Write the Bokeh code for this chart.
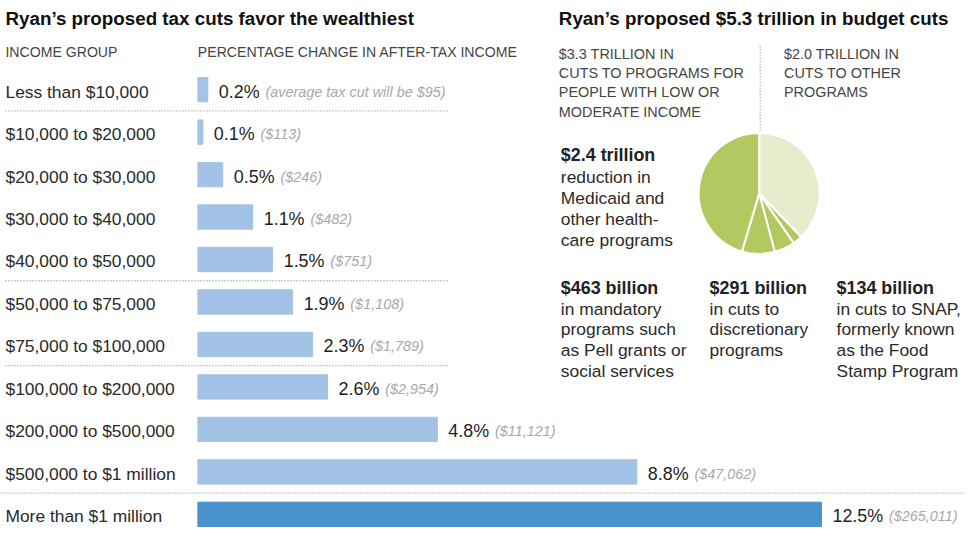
import numpy as np
from bokeh.plotting import figure
from bokeh.models import Range1d, ColumnDataSource
from bokeh.core.properties import value
from bokeh.embed import file_html
from bokeh.resources import INLINE

# ---------------- data ----------------
income_groups = [
    "Less than $10,000", "$10,000 to $20,000", "$20,000 to $30,000",
    "$30,000 to $40,000", "$40,000 to $50,000", "$50,000 to $75,000",
    "$75,000 to $100,000", "$100,000 to $200,000", "$200,000 to $500,000",
    "$500,000 to $1 million", "More than $1 million",
]
pct_change = [0.2, 0.1, 0.5, 1.1, 1.5, 1.9, 2.3, 2.6, 4.8, 8.8, 12.5]
avg_tax_cut = [95, 113, 246, 482, 751, 1108, 1789, 2954, 11121, 47062, 265011]
group_breaks = [0, 4, 6]          # dotted separators below these rows
top_group_break = 9               # full-width separator below this row

budget_parts = ["Other programs", "SNAP", "Discretionary", "Mandatory", "Medicaid and health care"]
budget_billions = [2000, 134, 291, 463, 2400]
budget_colors = ["#e5edcc", "#b4c862", "#b4c862", "#b4c862", "#b4c862"]

title_left = "Ryan\u2019s proposed tax cuts favor the wealthiest"
title_right = "Ryan\u2019s proposed $5.3 trillion in budget cuts"
header_left = ["INCOME GROUP", "PERCENTAGE CHANGE IN AFTER-TAX INCOME"]
header_low = ["$3.3 TRILLION IN", "CUTS TO PROGRAMS FOR", "PEOPLE WITH LOW OR", "MODERATE INCOME"]
header_other = ["$2.0 TRILLION IN", "CUTS TO OTHER", "PROGRAMS"]
note_medicaid = ["$2.4 trillion", "reduction in", "Medicaid and", "other health-", "care programs"]
note_mandatory = ["$463 billion", "in mandatory", "programs such", "as Pell grants or", "social services"]
note_discretionary = ["$291 billion", "in cuts to", "discretionary", "programs"]
note_snap = ["$134 billion", "in cuts to SNAP,", "formerly known", "as the Food", "Stamp Program"]

# ---------------- layout ----------------
W, H = 964, 527
REF_W, REF_H = 972, 541
S = W / REF_W
FONT = "Liberation Sans"

BAR_X0 = 199
PX_PER_PCT = 50.3
ROW0 = 91.5
ROW_STEP = 43.6
BAR_H = 25

def fs(px):
    return f"{px * S:.1f}px"

p = figure(width=W, height=H, x_range=Range1d(0, REF_W), y_range=Range1d(REF_H, 0),
           output_backend="svg", toolbar_location=None, min_border=0,
           x_axis_location=None, y_axis_location=None)
p.grid.visible = False
p.outline_line_color = None
p.background_fill_color = "white"
p.border_fill_color = "white"

p.extra_x_ranges = {"pct": Range1d((0 - BAR_X0) / PX_PER_PCT, (REF_W - BAR_X0) / PX_PER_PCT)}
p.extra_y_ranges = {"row": Range1d((REF_H - ROW0) / ROW_STEP, (0 - ROW0) / ROW_STEP)}

rows = np.arange(len(income_groups))
bar_colors = ["#a3c3e6"] * (len(rows) - 1) + ["#4892cd"]

# char widths (Liberation Sans / Arial, em units)
CW = {c: 0.556 for c in "0123456789"}
CW.update({".": 0.278, "%": 0.889})
PCT_F = 18.0

pct_text = [f"{v:.1f}%" for v in pct_change]
cut_text = ["(average tax cut will be ${:,})".format(avg_tax_cut[0])] + \
           ["(${:,})".format(v) for v in avg_tax_cut[1:]]
pct_w = [sum(CW.get(c, 0.556) for c in t) * PCT_F * S for t in pct_text]

src = ColumnDataSource(dict(
    row=rows, pct=pct_change, color=bar_colors, group=income_groups,
    pct_text=pct_text, cut_text=cut_text,
    cut_off=[11 + w + 6 for w in pct_w],
    ty=rows + 2.0 / ROW_STEP,
))

# bars
p.hbar(y="row", left=0, right="pct", height=BAR_H / ROW_STEP, color="color",
       source=src, x_range_name="pct", y_range_name="row")

# row labels
p.text(x=5, y="ty", text="group", source=src, y_range_name="row",
       text_font=value(FONT), text_font_size=fs(17.5), text_color="#2a2a2a",
       text_baseline="middle", text_align="left")
# percent labels
p.text(x="pct", y="ty", text="pct_text", source=src, x_range_name="pct", y_range_name="row",
       x_offset=11, text_font=value(FONT), text_font_size=fs(PCT_F), text_color="#1e1e1e",
       text_baseline="middle", text_align="left")
# average cut labels
p.text(x="pct", y="ty", text="cut_text", source=src, x_range_name="pct", y_range_name="row",
       x_offset="cut_off", text_font=value(FONT), text_font_size=fs(14.5), text_color="#a8a8a8",
       text_font_style="italic", text_baseline="middle", text_align="left")

# dotted separators
sep_y = [b + 0.5 for b in group_breaks]
p.segment(x0=5, x1=452, y0=sep_y, y1=sep_y, y_range_name="row",
          line_color="#9a9a9a", line_width=1.3, line_dash="1 2")
p.segment(x0=0, x1=REF_W, y0=top_group_break + 0.5, y1=top_group_break + 0.5, y_range_name="row",
          line_color="#9a9a9a", line_width=1.3, line_dash="1 2")

# titles and headers
p.text(x=[5, 563], y=[18, 18], text=[title_left, title_right], text_font=value(FONT),
       text_font_size=fs(19), text_font_style="bold", text_color="#111111",
       text_baseline="middle", text_align="left")
p.text(x=[5, 199], y=[52.5, 52.5], text=header_left, text_font=value(FONT),
       text_font_size=fs(14.2), text_color="#444444", text_baseline="middle", text_align="left")

HDR_STEP = 19.7
p.text(x=563, y=[55 + i * HDR_STEP for i in range(len(header_low))], text=header_low,
       text_font=value(FONT), text_font_size=fs(14.5), text_color="#444444",
       text_baseline="middle", text_align="left")
p.text(x=790, y=[55 + i * HDR_STEP for i in range(len(header_other))], text=header_other,
       text_font=value(FONT), text_font_size=fs(14.5), text_color="#444444",
       text_baseline="middle", text_align="left")

# vertical dotted divider
PIE_X, PIE_Y, PIE_R = 765, 198, 61
p.segment(x0=PIE_X + 1, x1=PIE_X + 1, y0=47, y1=PIE_Y - PIE_R - 2,
          line_color="#9a9a9a", line_width=1.3, line_dash="1 2")

# pie: clockwise from 12 o'clock
vals = np.array(budget_billions, dtype=float)
cum = np.cumsum(vals) / vals.sum()
prev = np.concatenate([[0], cum[:-1]])
pie_src = ColumnDataSource(dict(
    start=np.pi / 2 - 2 * np.pi * cum,
    end=np.pi / 2 - 2 * np.pi * prev,
    color=budget_colors, part=budget_parts,
))
p.wedge(x=PIE_X, y=PIE_Y, radius=PIE_R, start_angle="start", end_angle="end",
        direction="anticlock", fill_color="color", line_color="white", line_width=2,
        source=pie_src)

# notes
def note(lines, x, y0, step):
    p.text(x=x, y=y0, text=[lines[0]], text_font=value(FONT), text_font_size=fs(18),
           text_font_style="bold", text_color="#222222", text_baseline="middle", text_align="left")
    p.text(x=x, y=[y0 + (i + 1) * step for i in range(len(lines) - 1)], text=lines[1:],
           text_font=value(FONT), text_font_size=fs(17.5), text_color="#2a2a2a",
           text_baseline="middle", text_align="left")

note(note_medicaid, 565, 159, 21.7)
note(note_mandatory, 565, 295, 21.3)
note(note_discretionary, 715, 295, 21.3)
note(note_snap, 843, 295, 21.3)

open("out.html", "w").write(file_html(p, INLINE))
